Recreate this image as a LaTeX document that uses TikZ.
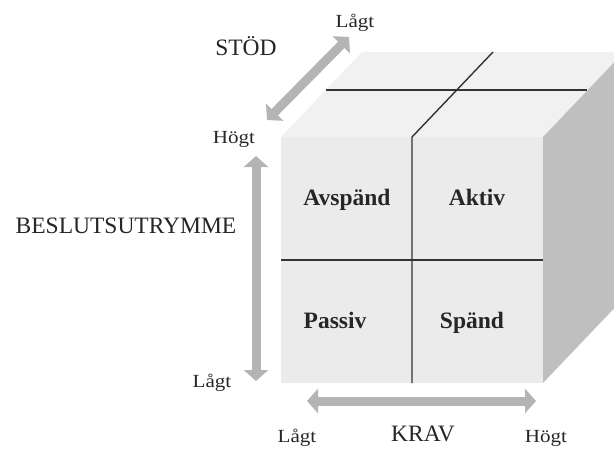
\documentclass[tikz,border=0pt]{standalone}
\usepackage{fontspec}
\setmainfont{Liberation Serif}
\newfontfamily\widefont[FakeStretch=1.14]{Liberation Serif}
\usetikzlibrary{arrows.meta}
\definecolor{topc}{HTML}{F1F1F1}
\definecolor{frontc}{HTML}{EBEBEB}
\definecolor{sidec}{HTML}{BFBFBF}
\definecolor{arrc}{HTML}{B4B4B4}
\definecolor{linec}{HTML}{333333}
\definecolor{txtc}{HTML}{262626}
\tikzset{
  bigarrow/.style={draw=arrc, line width=9pt, {Triangle[width=24pt,length=11pt]}-{Triangle[width=24pt,length=11pt]}},
  divline/.style={draw=linec, line width=1.4pt},
  small/.style={font=\widefont\fontsize{18.5}{18.5}\selectfont, text=txtc, anchor=base, inner sep=0pt},
  big/.style={font=\fontsize{23.5}{23.5}\selectfont, text=txtc, anchor=base, inner sep=0pt},
  quad/.style={font=\fontsize{23.5}{23.5}\selectfont\bfseries, text=txtc, anchor=base, inner sep=0pt},
}
\begin{document}
\begin{tikzpicture}[x=1pt,y=-1pt]
\useasboundingbox (0,0) rectangle (614,448);
\clip (0,0) rectangle (614,448);
% cube corners
\coordinate (FTL) at (281,137);
\coordinate (FTR) at (543,137);
\coordinate (FBL) at (281,383);
\coordinate (FBR) at (543,383);
\coordinate (BTL) at (362,52);
\coordinate (BTR) at (624,52);
\coordinate (BBR) at (624,298);
% faces
\fill[topc] (FTL) -- (BTL) -- (BTR) -- (FTR) -- cycle;
\fill[sidec] (FTR) -- (BTR) -- (BBR) -- (FBR) -- cycle;
\fill[frontc] (FTL) rectangle (FBR);
% dividers
\coordinate (TML) at (326,90);
\coordinate (TMR) at (587,90);
\coordinate (TBM) at (493,52);
\coordinate (FTM) at (412,137);
\coordinate (FBM) at (412,383);
\coordinate (FML) at (281,260);
\coordinate (FMR) at (543,260);
\draw[divline] (TML) -- (TMR);
\draw[divline] (TBM) -- (FTM) -- (FBM);
\draw[divline] (FML) -- (FMR);
% arrows
\coordinate (V1) at (256,156);
\coordinate (V2) at (256,381);
\coordinate (H1) at (307,401);
\coordinate (H2) at (536,401);
\coordinate (D1) at (267,120);
\coordinate (D2) at (349,37);
\draw[bigarrow] (V1) -- (V2);
\draw[bigarrow] (H1) -- (H2);
\draw[bigarrow] (D1) -- (D2);
% labels
\node[small] (lagtTop) at (355,27) {Lågt};
\node[big] (stod) at (246,55) {STÖD};
\node[small] (hogtLeft) at (234,143) {Högt};
\node[big] (besl) at (126,233) {BESLUTSUTRYMME};
\node[small] (lagtLeft) at (212,387) {Lågt};
\node[small] (lagtBot) at (297,442) {Lågt};
\node[big] (krav) at (423,441) {KRAV};
\node[small] (hogtBot) at (546,442) {Högt};
\node[quad] (avsp) at (347,205) {Avspänd};
\node[quad] (aktiv) at (477,205) {Aktiv};
\node[quad] (passiv) at (335,328) {Passiv};
\node[quad] (spand) at (472,328) {Spänd};
\end{tikzpicture}
\end{document}
